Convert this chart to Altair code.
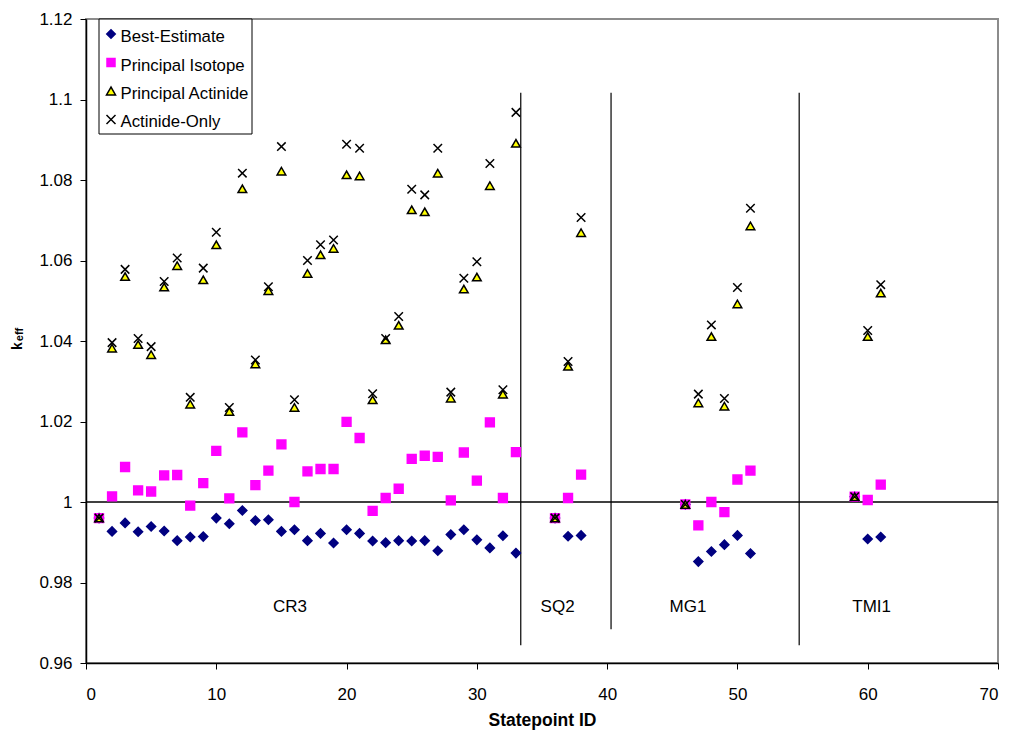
import altair as alt
import pandas as pd

# ---------------- data ----------------
ids = [1, 2, 3, 4, 5, 6, 7, 8, 9, 10, 11, 12, 13, 14, 15, 16, 17, 18, 19, 20,
       21, 22, 23, 24, 25, 26, 27, 28, 29, 30, 31, 32, 33,
       36, 37, 38,
       46, 47, 48, 49, 50, 51,
       59, 60, 61]

best_estimate = [0.9960, 0.9927, 0.9948, 0.9926, 0.9939, 0.9928, 0.9904, 0.9913, 0.9914, 0.9960,
                 0.9946, 0.9979, 0.9954, 0.9956, 0.9927, 0.9931, 0.9904, 0.9922, 0.9898, 0.9931,
                 0.9922, 0.9903, 0.9899, 0.9904, 0.9903, 0.9904, 0.9879, 0.9919, 0.9931, 0.9906,
                 0.9886, 0.9916, 0.9873,
                 0.9960, 0.9915, 0.9917,
                 0.9994, 0.9852, 0.9877, 0.9894, 0.9917, 0.9872,
                 1.0013, 0.9908, 0.9913]

principal_isotope = [0.9960, 1.0014, 1.0087, 1.0029, 1.0026, 1.0066, 1.0067, 0.9991, 1.0047, 1.0127,
                     1.0009, 1.0173, 1.0042, 1.0078, 1.0143, 1.0000, 1.0076, 1.0082, 1.0082, 1.0199,
                     1.0159, 0.9978, 1.0010, 1.0033, 1.0107, 1.0115, 1.0112, 1.0004, 1.0123, 1.0053,
                     1.0198, 1.0010, 1.0124,
                     0.9960, 1.0010, 1.0068,
                     0.9994, 0.9942, 1.0000, 0.9975, 1.0056, 1.0078,
                     1.0013, 1.0005, 1.0043]

principal_actinide = [0.9960, 1.0382, 1.0560, 1.0391, 1.0366, 1.0534, 1.0587, 1.0243, 1.0552, 1.0639,
                      1.0225, 1.0778, 1.0343, 1.0525, 1.0822, 1.0235, 1.0568, 1.0614, 1.0630, 1.0813,
                      1.0810, 1.0254, 1.0403, 1.0439, 1.0726, 1.0721, 1.0817, 1.0258, 1.0529, 1.0559,
                      1.0786, 1.0268, 1.0891,
                      0.9960, 1.0337, 1.0669,
                      0.9994, 1.0246, 1.0411, 1.0238, 1.0492, 1.0686,
                      1.0013, 1.0411, 1.0519]

actinide_only = [0.9960, 1.0396, 1.0578, 1.0406, 1.0386, 1.0548, 1.0606, 1.0260, 1.0581, 1.0670,
                 1.0235, 1.0817, 1.0353, 1.0535, 1.0883, 1.0254, 1.0600, 1.0639, 1.0651, 1.0889,
                 1.0879, 1.0269, 1.0406, 1.0461, 1.0777, 1.0763, 1.0879, 1.0273, 1.0556, 1.0597,
                 1.0841, 1.0279, 1.0968,
                 0.9960, 1.0349, 1.0707,
                 0.9994, 1.0268, 1.0440, 1.0257, 1.0533, 1.0730,
                 1.0013, 1.0426, 1.0540]

series_names = ["Best-Estimate", "Principal Isotope", "Principal Actinide", "Actinide-Only"]
series_fill = ["#000080", "#FF00FF", "#FFFF00", "#000000"]
series_stroke = ["#000080", "#FF00FF", "#000000", "#000000"]

# plant boundaries and labels
sep_x = [33.37, 40.3, 54.74]
sep_top = [1.1017, 1.1017, 1.1017]
sep_bottom = [0.9644, 0.9684, 0.9644]
plant_labels = ["CR3", "SQ2", "MG1", "TMI1"]
plant_label_x = [15.65, 36.2, 46.2, 60.3]
plant_label_y = [0.9738, 0.9738, 0.9738, 0.9738]

x_ticks = [0, 10, 20, 30, 40, 50, 60, 70]
y_ticks = [0.96, 0.98, 1.0, 1.02, 1.04, 1.06, 1.08, 1.1, 1.12]

# ---------------- tables ----------------
rows = []
for name, vals in zip(series_names, [best_estimate, principal_isotope, principal_actinide, actinide_only]):
    for i, v in zip(ids, vals):
        rows.append({"id": i, "keff": v, "series": name})
df = pd.DataFrame(rows)

sep_df = pd.DataFrame({"id": sep_x, "keff": sep_top, "keff2": sep_bottom})
lab_df = pd.DataFrame({"id": plant_label_x, "keff": plant_label_y, "label": plant_labels})
ref_df = pd.DataFrame({"keff": [1.0]})

FONT = "Liberation Sans"
X_PATH = "M-1,-1L1,1M-1,1L1,-1"
shapes = ["diamond", "square", "triangle-up", X_PATH]
sizes = [81, 72, 100, 100]

xscale = alt.Scale(domain=[0, 70], nice=False)
yscale = alt.Scale(domain=[0.96, 1.12], nice=False, zero=False)

xaxis = alt.Axis(values=x_ticks, title="Statepoint ID", labelPadding=17, titlePadding=9,
                 titleFontSize=17.5, titleFontWeight="bold", titleFont=FONT, titleColor="black")
yaxis = alt.Axis(values=y_ticks, format="~g", title=None, labelPadding=8)

X = alt.X("id:Q", scale=xscale, axis=xaxis)
Y = alt.Y("keff:Q", scale=yscale, axis=yaxis)

points = alt.Chart(df).mark_point(filled=True, opacity=1, strokeWidth=1.5).encode(
    x=X,
    y=Y,
    shape=alt.Shape("series:N", scale=alt.Scale(domain=series_names, range=shapes), legend=None),
    fill=alt.Fill("series:N", scale=alt.Scale(domain=series_names, range=series_fill), legend=None),
    stroke=alt.Stroke("series:N", scale=alt.Scale(domain=series_names, range=series_stroke), legend=None),
    size=alt.Size("series:N", scale=alt.Scale(domain=series_names, range=sizes), legend=None),
)

ref_line = alt.Chart(ref_df).mark_rule(color="black", strokeWidth=1.5).encode(y=Y)

separators = alt.Chart(sep_df).mark_rule(color="black", strokeWidth=1.2).encode(
    x=X, y=Y, y2="keff2:Q"
)

labels = alt.Chart(lab_df).mark_text(font=FONT, fontSize=17, color="black").encode(
    x=X, y=Y, text="label:N"
)

# y-axis title "k" with subscript "eff"
ytitle_k = alt.Chart(pd.DataFrame({"t": ["k"]})).mark_text(
    font=FONT, fontSize=14, fontWeight="bold", angle=270, align="center", baseline="alphabetic", color="black"
).encode(text="t:N", x=alt.value(-64), y=alt.value(327))

ytitle_eff = alt.Chart(pd.DataFrame({"t": ["eff"]})).mark_text(
    font=FONT, fontSize=11, fontWeight="bold", angle=270, align="center", baseline="alphabetic", color="black"
).encode(text="t:N", x=alt.value(-63), y=alt.value(315.5))

# legend box (drawn in pixel space, top-left of the plot)
one = pd.DataFrame({"a": [0]})
legend_box = alt.Chart(one).mark_rect(fill="white", stroke="black", strokeWidth=1).encode(
    x=alt.value(13), x2=alt.value(166), y=alt.value(0), y2=alt.value(115)
)
legend_layers = [legend_box]
sym_y = [15, 43.5, 72, 100.5]
lab_y = [18, 46.5, 74.5, 103]
for name, shp, fc, sc, sz, sy, ly in zip(series_names, shapes, series_fill, series_stroke,
                                         [72, 64, 81, 81], sym_y, lab_y):
    d = pd.DataFrame({"series": [name]})
    legend_layers.append(
        alt.Chart(d).mark_point(shape=shp, filled=True, fill=fc, stroke=sc, size=sz,
                                strokeWidth=1.5, opacity=1).encode(
            x=alt.value(25), y=alt.value(sy))
    )
    legend_layers.append(
        alt.Chart(d).mark_text(font=FONT, fontSize=16.8, align="left", baseline="middle",
                               color="black").encode(
            text="series:N", x=alt.value(34.5), y=alt.value(ly))
    )

chart = alt.layer(ref_line, separators, labels, points, ytitle_k, ytitle_eff,
                  *legend_layers).properties(
    width=912,
    height=644,
    autosize=alt.AutoSizeParams(type="none"),
    padding={"left": 78, "top": 11, "right": 2, "bottom": 69},
    background="white",
).configure_view(
    stroke="#8c8c8c", strokeWidth=2
).configure_axis(
    grid=False, domainColor="black", domainWidth=1.5, tickColor="black", tickWidth=1,
    tickSize=6, labelFont=FONT, labelFontSize=17, labelColor="black"
)

chart.save("out.html", embed_options={"renderer": "svg", "actions": False})
